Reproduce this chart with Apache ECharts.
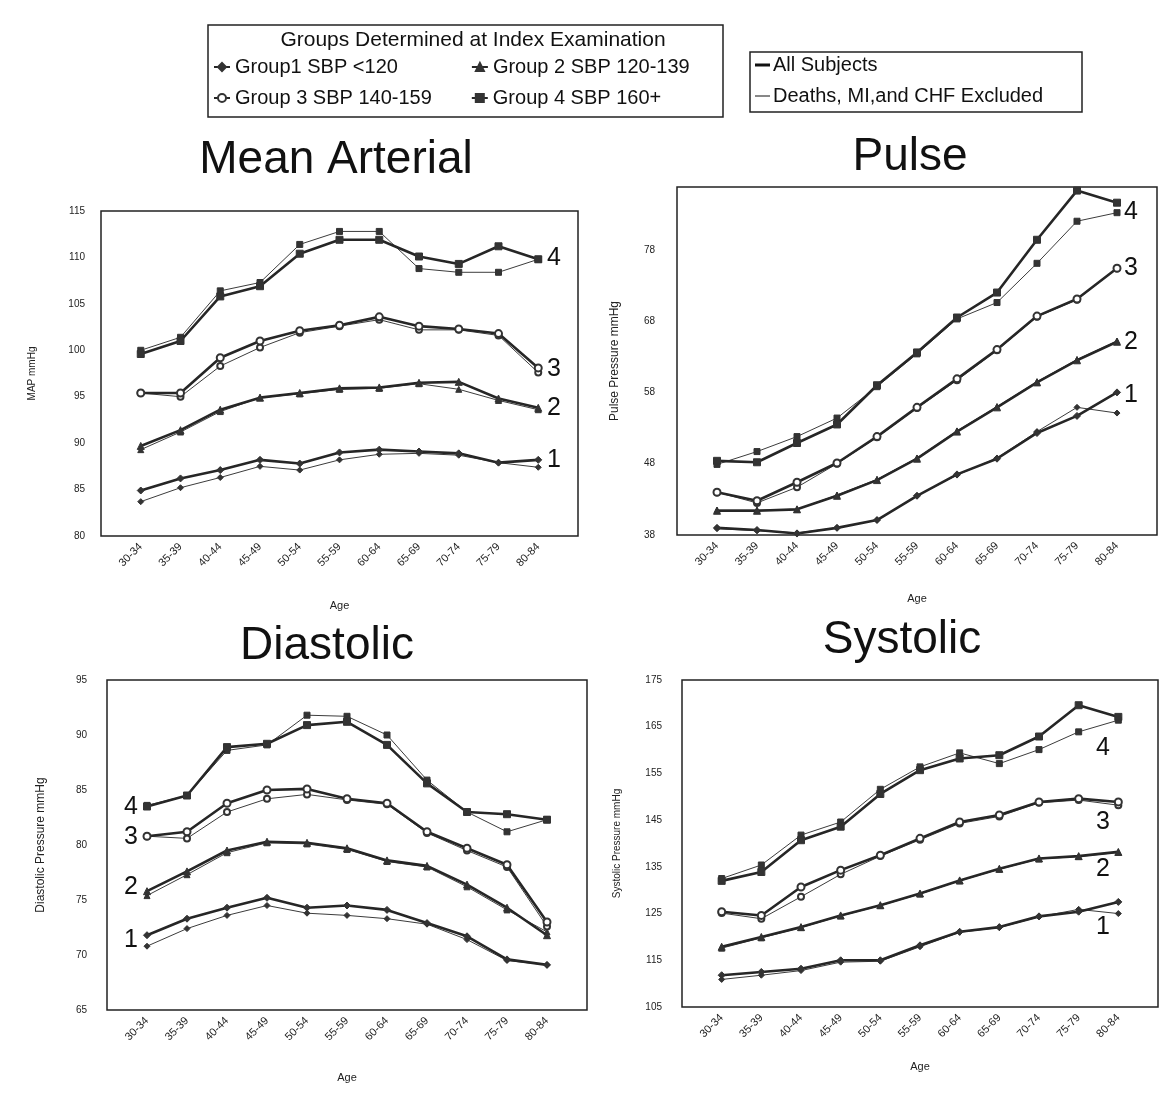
<!DOCTYPE html>
<html>
<head>
<meta charset="utf-8">
<title>Blood pressure by age group</title>
<script src="https://cdn.jsdelivr.net/npm/echarts@6/dist/echarts.min.js"></script>
<style>
  html, body { margin: 0; padding: 0; background: #fff; }
  #chart { width: 1165px; height: 1095px; }
</style>
</head>
<body>
<div id="chart"></div>
<script>
// age classes on the x axis
const ages = ['30-34', '35-39', '40-44', '45-49', '50-54', '55-59', '60-64', '65-69', '70-74', '75-79', '80-84'];
const groupNames = ['Group1 SBP <120', 'Group 2 SBP 120-139', 'Group 3 SBP 140-159', 'Group 4 SBP 160+'];

// Mean arterial pressure, groups 1..4 (all subjects / deaths, MI and CHF excluded)
const mapAll = [
  [84.9, 86.2, 87.1, 88.2, 87.8, 89.0, 89.3, 89.1, 88.9, 87.9, 88.2],
  [89.7, 91.4, 93.6, 94.9, 95.4, 95.9, 96.0, 96.5, 96.6, 94.8, 93.8],
  [95.4, 95.4, 99.2, 101.0, 102.1, 102.7, 103.6, 102.6, 102.3, 101.8, 98.1],
  [99.6, 101.0, 105.8, 106.9, 110.4, 111.9, 111.9, 110.1, 109.3, 111.2, 109.8]
];
const mapExcl = [
  [83.7, 85.2, 86.3, 87.5, 87.1, 88.2, 88.8, 88.9, 88.7, 87.9, 87.4],
  [89.3, 91.2, 93.4, 94.9, 95.3, 95.8, 95.9, 96.4, 95.8, 94.6, 93.6],
  [95.4, 95.0, 98.3, 100.3, 101.9, 102.6, 103.3, 102.2, 102.2, 101.6, 97.6],
  [100.0, 101.4, 106.4, 107.3, 111.4, 112.8, 112.8, 108.8, 108.4, 108.4, 109.8]
];

// Pulse pressure
const pulseAll = [
  [39.0, 38.7, 38.2, 39.0, 40.1, 43.5, 46.5, 48.7, 52.3, 54.7, 58.0],
  [41.4, 41.4, 41.6, 43.5, 45.7, 48.7, 52.5, 55.9, 59.4, 62.5, 65.1],
  [44.0, 42.8, 45.4, 48.1, 51.8, 55.9, 59.9, 64.0, 68.7, 71.1, 75.4],
  [48.4, 48.2, 50.9, 53.5, 59.0, 63.6, 68.5, 72.0, 79.4, 86.3, 84.6]
];
const pulseExcl = [
  [38.9, 38.6, 38.3, 39.0, 40.1, 43.5, 46.4, 48.8, 52.5, 55.9, 55.1],
  [41.5, 41.5, 41.6, 43.6, 45.8, 48.8, 52.6, 56.0, 59.5, 62.6, 65.2],
  [44.0, 42.5, 44.7, 48.0, 51.7, 55.8, 59.7, 63.9, 68.6, 71.0, 75.4],
  [47.9, 49.7, 51.8, 54.4, 58.8, 63.4, 68.3, 70.6, 76.1, 82.0, 83.2]
];

// Diastolic pressure
const diaAll = [
  [71.8, 73.3, 74.3, 75.2, 74.3, 74.5, 74.1, 72.9, 71.7, 69.6, 69.1],
  [75.8, 77.6, 79.5, 80.3, 80.2, 79.7, 78.6, 78.1, 76.4, 74.3, 71.8],
  [80.8, 81.2, 83.8, 85.0, 85.1, 84.2, 83.8, 81.2, 79.7, 78.2, 73.0],
  [83.5, 84.5, 88.9, 89.2, 90.9, 91.2, 89.1, 85.6, 83.0, 82.8, 82.3]
];
const diaExcl = [
  [70.8, 72.4, 73.6, 74.5, 73.8, 73.6, 73.3, 72.8, 71.4, 69.5, 69.1],
  [75.4, 77.3, 79.3, 80.2, 80.1, 79.6, 78.5, 78.0, 76.2, 74.1, 72.1],
  [80.8, 80.6, 83.0, 84.2, 84.6, 84.1, 83.7, 81.1, 79.5, 78.0, 72.6],
  [83.6, 84.5, 88.6, 89.1, 91.8, 91.7, 90.0, 85.9, 83.0, 81.2, 82.3]
];

// Systolic pressure
const sysAll = [
  [111.8, 112.5, 113.2, 115.0, 115.0, 118.2, 121.1, 122.1, 124.4, 125.4, 127.5],
  [117.9, 120.0, 122.1, 124.6, 126.8, 129.3, 132.1, 134.6, 136.8, 137.3, 138.2],
  [125.4, 124.6, 130.7, 134.3, 137.5, 141.1, 144.6, 146.1, 148.9, 149.6, 148.9],
  [132.0, 133.9, 140.7, 143.6, 150.6, 155.7, 158.2, 158.9, 162.9, 169.6, 167.1]
];
const sysExcl = [
  [110.9, 111.8, 112.8, 114.6, 114.8, 117.9, 121.0, 122.0, 124.3, 125.9, 125.0],
  [117.6, 119.8, 122.0, 124.5, 126.7, 129.2, 132.0, 134.5, 136.7, 137.2, 138.1],
  [125.1, 123.9, 128.6, 133.4, 137.3, 140.8, 144.3, 145.8, 148.7, 149.3, 148.2],
  [132.5, 135.4, 141.8, 144.6, 151.6, 156.4, 159.4, 157.1, 160.1, 163.9, 166.4]
];

const symbols = ['diamond', 'triangle', 'emptyCircle', 'rect'];
const font = 'Liberation Sans, Arial, sans-serif';
const ink = '#222';

// one entry per panel
const panels = [
  { title: 'Mean Arterial', tx: 336, ty: 160, yName: 'MAP mmHg', nameSize: 10, nameGap: 64, labelGap: 16,
    min: 80, max: 115, step: 5,
    grid: { left: 101, top: 211, width: 477, height: 325 }, all: mapAll, excl: mapExcl,
    tags: [[547, 460], [547, 408], [547, 369], [547, 258]], ageGap: 64 },
  { title: 'Pulse', tx: 910, ty: 157, yName: 'Pulse Pressure mmHg', nameSize: 12, nameGap: 56, labelGap: 22,
    min: 38, max: 86.8, step: 10,
    grid: { left: 677, top: 187, width: 480, height: 348 }, all: pulseAll, excl: pulseExcl,
    tags: [[1124, 395], [1124, 342], [1124, 268], [1124, 212]], ageGap: 58 },
  { title: 'Diastolic', tx: 327, ty: 646, yName: 'Diastolic Pressure mmHg', nameSize: 12, nameGap: 60, labelGap: 20,
    min: 65, max: 95, step: 5,
    grid: { left: 107, top: 680, width: 480, height: 330 }, all: diaAll, excl: diaExcl,
    tags: [[124, 940], [124, 887], [124, 837], [124, 807]], ageGap: 62 },
  { title: 'Systolic', tx: 902, ty: 640, yName: 'Systolic Pressure mmHg', nameSize: 10, nameGap: 60, labelGap: 20,
    min: 105, max: 175, step: 10,
    grid: { left: 682, top: 680, width: 476, height: 327 }, all: sysAll, excl: sysExcl,
    tags: [[1096, 927], [1096, 869], [1096, 822], [1096, 748]], ageGap: 54 }
];

// pad the categories so the first and last age sit one step in from the frame
const xCats = [''].concat(ages, ['']);

const grids = [], xAxes = [], yAxes = [], series = [], graphics = [];

panels.forEach(function (p, i) {
  grids.push(Object.assign({ show: true, borderColor: ink, borderWidth: 1.5, backgroundColor: 'transparent' }, p.grid));

  xAxes.push({
    type: 'category', gridIndex: i, data: xCats, boundaryGap: false,
    axisLine: { show: false }, axisTick: { show: false },
    axisLabel: { interval: 0, rotate: 45, margin: 9, fontSize: 11, color: ink, fontFamily: font },
    name: 'Age', nameLocation: 'middle', nameGap: p.ageGap,
    nameTextStyle: { fontSize: 11, color: ink, fontFamily: font }
  });

  yAxes.push({
    type: 'value', gridIndex: i, min: p.min, max: p.max, interval: p.step,
    axisLine: { show: false }, axisTick: { show: false }, splitLine: { show: false },
    axisLabel: {
      margin: p.labelGap, fontSize: 10, color: ink, fontFamily: font,
      // hide the extra label ECharts puts on a max that is not a whole step
      formatter: function (v) { return (v - p.min) % p.step !== 0 ? '' : v; }
    },
    name: p.yName, nameLocation: 'middle', nameGap: p.nameGap,
    nameTextStyle: { fontSize: p.nameSize, color: ink, fontFamily: font }
  });

  for (let g = 0; g < 4; g++) {
    [p.all, p.excl].forEach(function (set, v) {
      series.push({
        name: groupNames[g], type: 'line', xAxisIndex: i, yAxisIndex: i,
        data: ['-'].concat(set[g]),
        symbol: symbols[g], symbolSize: v === 0 ? 7 : 6, showAllSymbol: true,
        lineStyle: { color: v === 0 ? '#262626' : '#3c3c3c', width: v === 0 ? 2.6 : 1 },
        itemStyle: { color: '#333', borderColor: '#333', borderWidth: 1 },
        emphasis: { disabled: true },
        z: v === 0 ? 3 : 2
      });
    });
  }

  graphics.push({
    type: 'text', style: { text: p.title, x: p.tx, y: p.ty, align: 'center', verticalAlign: 'middle',
      font: '46px ' + font, fill: '#111' }
  });
  // group numbers next to the curves
  p.tags.forEach(function (t, g) {
    graphics.push({
      type: 'text', style: { text: String(g + 1), x: t[0], y: t[1], verticalAlign: 'middle',
        font: '25px ' + font, fill: '#111' }
    });
  });
});

// legend frames and the line-style key
graphics.push(
  { type: 'rect', shape: { x: 208, y: 25, width: 515, height: 92 }, style: { fill: 'none', stroke: ink, lineWidth: 1.5 } },
  { type: 'text', style: { text: 'Groups Determined at Index Examination', x: 473, y: 40, align: 'center',
      verticalAlign: 'middle', font: '21px ' + font, fill: '#111' } },
  { type: 'rect', shape: { x: 750, y: 52, width: 332, height: 60 }, style: { fill: 'none', stroke: ink, lineWidth: 1.5 } },
  { type: 'line', shape: { x1: 755, y1: 65, x2: 770, y2: 65 }, style: { stroke: '#111', lineWidth: 3 } },
  { type: 'text', style: { text: 'All Subjects', x: 773, y: 65, verticalAlign: 'middle', font: '20px ' + font, fill: '#111' } },
  { type: 'line', shape: { x1: 755, y1: 96, x2: 770, y2: 96 }, style: { stroke: '#111', lineWidth: 1 } },
  { type: 'text', style: { text: 'Deaths, MI,and CHF Excluded', x: 773, y: 96, verticalAlign: 'middle', font: '20px ' + font, fill: '#111' } }
);

const legendText = { fontSize: 20, color: '#111', fontFamily: font };

const myChart = echarts.init(document.getElementById('chart'));
const option = {
  animation: false,
  backgroundColor: '#fff',
  legend: [
    { data: [groupNames[0], groupNames[1]], left: 213, top: 57, padding: 0, itemGap: 73, itemWidth: 16, itemHeight: 10,
      selectedMode: false, textStyle: legendText },
    { data: [groupNames[2], groupNames[3]], left: 213, top: 88, padding: 0, itemGap: 39, itemWidth: 16, itemHeight: 10,
      selectedMode: false, textStyle: legendText }
  ],
  grid: grids,
  xAxis: xAxes,
  yAxis: yAxes,
  series: series,
  graphic: graphics
};
myChart.setOption(option);
</script>
</body>
</html>
